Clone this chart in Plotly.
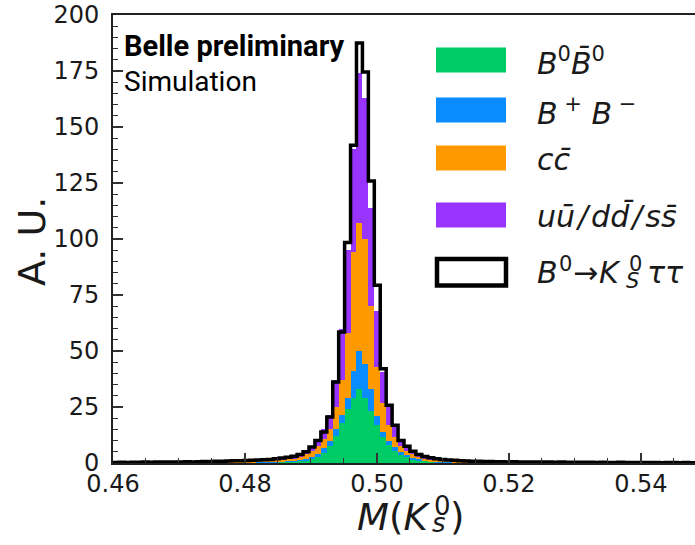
import numpy as np
import plotly.graph_objects as go

# ---------------- data ----------------
x_lo, x_hi, n_bins = 0.46, 0.55, 100

# signal B0 -> Ks tau tau (outline), per bin
signal = [0.2,0.3,0.2,0.3,0.3,0.4,0.3,0.4,0.4,0.5,
          0.4,0.5,0.6,0.5,0.6,0.7,0.7,0.8,0.8,0.9,
          1.0,1.0,1.1,1.2,1.3,1.4,1.6,1.9,2.2,2.6,
          3.0,3.8,5.0,7.1,10.1,13.8,20.5,36.2,58.5,98.4,
          141.8,187.5,174.5,125.9,79.3,42.1,25.8,16.8,10.1,7.5,
          5.2,3.8,2.9,2.3,1.9,1.6,1.3,1.2,1.0,0.9,
          0.8,0.8,0.7,0.7,0.6,0.6,0.5,0.6,0.5,0.5,
          0.4,0.5,0.4,0.4,0.3,0.4,0.3,0.3,0.3,0.3,
          0.3,0.2,0.3,0.2,0.2,0.3,0.2,0.2,0.2,0.2,
          0.2,0.2,0.1,0.2,0.2,0.1,0.2,0.1,0.1,0.2]

b0b0 = ([0.04,0.07,0.04,0.07,0.07,0.09,0.07,0.09,0.09,0.11,0.09,0.11,0.13,0.11,0.13,
         0.15,0.15,0.18,0.18,0.2,0.22,0.22,0.24,0.26,0.29,0.31,0.35,0.42,0.48,0.57]
        + [0.7,0.9,1.2,1.8,2.8,4.5,7.5,12,18,24,29,33,29,23,17,11.5,8,5.5,3.5,2.5,1.7,1.2,0.9]
        + [0.51,0.42,0.35,0.29,0.26,0.22,0.2,0.18,0.18,0.15,0.15,0.13,0.13,0.11,0.13,0.11,0.11,
           0.09,0.11,0.09,0.09,0.07,0.09,0.07,0.07,0.07,0.07,0.07,0.04,0.07,0.04,0.04,0.07,
           0.04,0.04,0.04,0.04,0.04,0.04,0.02,0.04,0.04,0.02,0.04,0.02,0.02,0.04])
bpbm = ([0.02,0.04,0.02,0.04,0.04,0.05,0.04,0.05,0.05,0.06,0.05,0.06,0.07,0.06,0.07,
         0.08,0.08,0.1,0.1,0.11,0.12,0.12,0.13,0.14,0.16,0.17,0.19,0.23,0.26,0.31]
        + [0.3,0.4,0.6,0.8,1.1,2.0,2.5,3,3.5,5,12,17,15,10,4,2.5,2,1.5,1.3,0.9,0.7,0.5,0.4]
        + [0.28,0.23,0.19,0.16,0.14,0.12,0.11,0.1,0.1,0.08,0.08,0.07,0.07,0.06,0.07,0.06,0.06,
           0.05,0.06,0.05,0.05,0.04,0.05,0.04,0.04,0.04,0.04,0.04,0.02,0.04,0.02,0.02,0.04,
           0.02,0.02,0.02,0.02,0.02,0.02,0.01,0.02,0.02,0.01,0.02,0.01,0.01,0.02])
ccbar = ([0.08,0.11,0.08,0.11,0.11,0.15,0.11,0.15,0.15,0.19,0.15,0.19,0.23,0.19,0.23,
          0.27,0.27,0.3,0.3,0.34,0.38,0.38,0.42,0.46,0.49,0.53,0.61,0.72,0.84,0.99]
         + [1.2,1.6,2.1,2.8,3.5,4.0,5.0,10,15.5,29,53,57,56,37,22,13,7,4.5,2.7,1.9,1.4,1.1,0.8]
         + [0.87,0.72,0.61,0.49,0.46,0.38,0.34,0.3,0.3,0.27,0.27,0.23,0.23,0.19,0.23,0.19,0.19,
            0.15,0.19,0.15,0.15,0.11,0.15,0.11,0.11,0.11,0.11,0.11,0.08,0.11,0.08,0.08,0.11,
            0.08,0.08,0.08,0.08,0.08,0.08,0.04,0.08,0.08,0.04,0.08,0.04,0.04,0.08])
uds = ([0.06,0.08,0.06,0.08,0.08,0.11,0.08,0.11,0.11,0.14,0.11,0.14,0.17,0.14,0.17,
        0.2,0.2,0.22,0.22,0.25,0.28,0.28,0.31,0.34,0.36,0.39,0.45,0.53,0.62,0.73]
       + [0.8,0.9,1.2,1.9,2.9,4.5,6.5,12,23,37,46,67,63,44,25,13.5,8,5,2.5,2.0,1.3,0.9,0.7]
       + [0.64,0.53,0.45,0.36,0.34,0.28,0.25,0.22,0.22,0.2,0.2,0.17,0.17,0.14,0.17,0.14,0.14,
          0.11,0.14,0.11,0.11,0.08,0.11,0.08,0.08,0.08,0.08,0.08,0.06,0.08,0.06,0.06,0.08,
          0.06,0.06,0.06,0.06,0.06,0.06,0.03,0.06,0.06,0.03,0.06,0.03,0.03,0.06])

series_names = ["B0B0", "B+B-", "ccbar", "uds"]
series_colors = ["#00CC66", "#0A8CFF", "#FF9900", "#9933FF"]
legend_labels = ["<i>B</i><sup>0</sup><i>B̄</i><sup>0</sup>",
                 "<i>B</i><sup> +</sup><i> B</i><sup> −</sup>",
                 "<i>cc̄</i>",
                 "<i>uū\u200a/\u200add̄\u200a/\u200ass̄</i>"]
xtick_vals = [0.46, 0.48, 0.50, 0.52, 0.54]
ytick_vals = [0, 25, 50, 75, 100, 125, 150, 175, 200]

# ---------------- figure ----------------
edges = np.linspace(x_lo, x_hi, n_bins + 1)
centers = 0.5 * (edges[:-1] + edges[1:])
bw = edges[1] - edges[0]

W, H = 695, 545
L, R, T, B = 113, 695, 15, 463
def px(x): return (x - L) / (R - L)
def py(y): return (B - y) / (B - T)

fig = go.Figure()
for vals, name, col in zip([b0b0, bpbm, ccbar, uds], series_names, series_colors):
    fig.add_trace(go.Bar(x=centers, y=vals, width=bw, name=name,
                         marker=dict(color=col, line=dict(width=0)),
                         showlegend=False))

fig.add_trace(go.Scatter(x=edges, y=list(signal) + [signal[-1]], mode="lines",
                         line=dict(shape="hv", color="black", width=3.5),
                         showlegend=False))

axis_font = dict(family="DejaVu Sans", size=24, color="#1a1a1a")
fig.update_layout(
    width=W, height=H, margin=dict(l=L, r=W - R, t=T, b=H - B),
    paper_bgcolor="white", plot_bgcolor="white",
    barmode="stack", bargap=0, showlegend=False,
    xaxis=dict(range=[0.46, 0.5482], tickvals=xtick_vals,
               ticktext=[f"{v:.2f}" for v in xtick_vals],
               ticks="inside", ticklen=10, tickwidth=1.5, tickcolor="#333",
               minor=dict(dtick=0.005, tick0=0.46, ticks="inside", ticklen=5,
                          tickwidth=1.2, tickcolor="#333"),
               showline=True, linewidth=2, linecolor="#222", mirror=True,
               showgrid=False, zeroline=False, tickfont=axis_font,
               ticklabelstandoff=-2),
    yaxis=dict(range=[0, 200], tickvals=ytick_vals,
               ticks="inside", ticklen=10, tickwidth=1.5, tickcolor="#333",
               minor=dict(dtick=5, tick0=0, ticks="inside", ticklen=5,
                          tickwidth=1.2, tickcolor="#333"),
               showline=True, linewidth=2, linecolor="#222",
               showgrid=False, zeroline=False, tickfont=axis_font,
               ticklabelstandoff=7),
)

ann = []
def text(t, x, y, size, anchor="left", family="DejaVu Sans", color="#1a1a1a", **kw):
    ann.append(dict(text=t, x=px(x), y=py(y), xref="paper", yref="paper",
                    xanchor=anchor, yanchor="middle", showarrow=False,
                    font=dict(family=family, size=size, color=color), **kw))

# axis titles
text("A. U.", 32, 242, 38, anchor="center", textangle=-90)
text("<i>M</i>(<i>K</i>", 355, 517, 37)
text("0", 432, 505.5, 26)
text("<i>s</i>", 430, 523, 26)
text(")", 448, 517, 37)

# Belle text
text("<b>Belle preliminary</b>", 122, 46, 29, family="Roboto", color="black")
text("Simulation", 122, 82, 28, family="Roboto", color="black")

# legend
shapes = []
row_c = [60, 110, 158, 215]
row_base = [72, 122, 170, 227]
for yc, yb, col, lab in zip(row_c, row_base, series_colors, legend_labels):
    shapes.append(dict(type="rect", xref="paper", yref="paper",
                       x0=px(436), x1=px(506), y0=py(yc + 12.5), y1=py(yc - 12.5),
                       fillcolor=col, line=dict(width=0)))
    text(lab, 535, yb - 10.5, 30)
shapes.append(dict(type="rect", xref="paper", yref="paper",
                   x0=px(437), x1=px(506), y0=py(285.5), y1=py(259),
                   fillcolor="white", line=dict(color="black", width=4.5)))
text("<i>B</i>", 535, 272.5, 30)
text("0", 557, 264, 21)
text("→", 571, 272.5, 30)
text("<i>K</i>", 597, 272.5, 30)
text("0", 627, 263.5, 21)
text("<i>S</i>", 624, 280.5, 21)
text("<i>ττ</i>", 645, 272.5, 30)

fig.update_layout(annotations=ann, shapes=shapes)
fig.write_html("out.html")
